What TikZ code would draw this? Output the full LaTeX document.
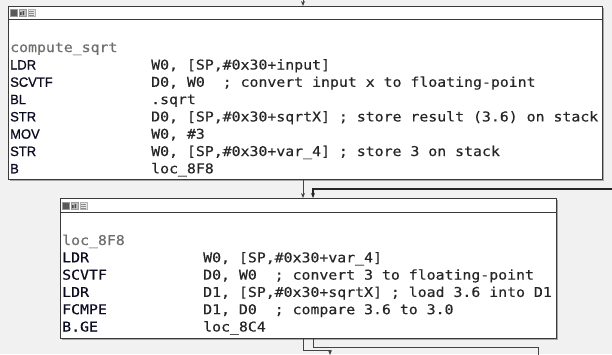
\documentclass[tikz,border=0pt]{standalone}
\usepackage{fontspec}
\usetikzlibrary{arrows.meta,shadows}
\newfontfamily\codefont[FakeStretch=1.1,FakeBold=0.35]{DejaVu Sans Mono}
\newfontfamily\mnefont[FakeStretch=0.96,FakeBold=0.9]{Liberation Sans}
\definecolor{bgc}{HTML}{F1F1F1}
\definecolor{boxline}{HTML}{3A3A3A}
\definecolor{shadowc}{HTML}{A8A8A8}
\definecolor{mnec}{HTML}{0B0B22}
\definecolor{opc}{HTML}{262626}
\definecolor{labc}{HTML}{6E6E6E}
\definecolor{connc}{HTML}{444444}
\begin{document}
\begin{tikzpicture}[x=1pt,y=-1pt,
  blk/.style={draw=boxline, line width=1.1pt, fill=white, inner sep=0pt, anchor=north west,
    drop shadow={shadow xshift=1.6pt, shadow yshift=-1.6pt, fill=shadowc, opacity=1}},
  hdrline/.style={draw=boxline, line width=1pt},
  mne/.style={font=\mnefont\fontsize{13.5}{16}\selectfont, text=mnec, inner sep=0pt, anchor=base west},
  mnem/.style={font=\codefont\fontsize{13.5}{16}\selectfont, text=mnec, inner sep=0pt, anchor=base west},
  opd/.style={font=\codefont\fontsize{13.5}{16}\selectfont, text=opc, inner sep=0pt, anchor=base west},
  lab/.style={font=\codefont\fontsize{13.5}{16}\selectfont, text=labc, inner sep=0pt, anchor=base west},
  conn/.style={draw=connc, line width=1pt, -{Stealth[length=5pt,width=4pt]}},
  connthick/.style={draw=black!85, line width=1.5pt, -{Stealth[length=5pt,width=4pt]}},
  plain/.style={draw=connc, line width=1pt},
  icoA/.style={fill=black!65, draw=black!40, line width=0.3pt},
  icoB/.style={fill=black!25, draw=black!40, line width=0.3pt},
  icoC/.style={fill=black!10, draw=black!30, line width=0.3pt}
]
\useasboundingbox (0,0) rectangle (612,354);
\fill[bgc] (0,0) rectangle (612,354);

% ---- top block
\node[blk, minimum width=594pt, minimum height=173pt] (top) at (8,6) {};
\draw[hdrline] ([yshift=-13pt]top.north west) -- ([yshift=-13pt]top.north east);
\fill[icoA] (10,9) rectangle (17,16);
\fill[icoB] (19,9) rectangle (26,16);
\fill[black!70] (20,15) rectangle (21.5,12) (22.5,15) rectangle (24,11);
\fill[icoC] (28,9) rectangle (35,16);
\draw[black!45, line width=0.4pt] (29,11) -- (34,11) (29,13) -- (34,13) (29,15) -- (34,15);

\node[lab] (t0) at (10,52) {compute\_sqrt};
\node[mne] (t1m) at (10,69.5) {LDR};
\node[opd] (t1o) at (151,69.5) {W0, [SP,\#0x30+input]};
\node[mne] (t2m) at (10,86.8) {SCVTF};
\node[opd] (t2o) at (151,86.8) {D0, W0\ \ ; convert input x to floating-point};
\node[mne] (t3m) at (10,104.1) {BL};
\node[opd] (t3o) at (151,104.1) {.sqrt};
\node[mne] (t4m) at (10,121.4) {STR};
\node[opd] (t4o) at (151,121.4) {D0, [SP,\#0x30+sqrtX] ; store result (3.6) on stack};
\node[mne] (t5m) at (10,138.7) {MOV};
\node[opd] (t5o) at (151,138.7) {W0, \#3};
\node[mne] (t6m) at (10,156) {STR};
\node[opd] (t6o) at (151,156) {W0, [SP,\#0x30+var\_4] ; store 3 on stack};
\node[mne] (t7m) at (10,173.3) {B};
\node[opd] (t7o) at (151,173.3) {loc\_8F8};

% ---- second block
\node[blk, minimum width=496pt, minimum height=140pt] (loc) at (60,198) {};
\draw[hdrline] ([yshift=-14pt]loc.north west) -- ([yshift=-14pt]loc.north east);
\fill[icoA] (62,202) rectangle (69,209);
\fill[icoB] (71,202) rectangle (78,209);
\fill[black!70] (72,208) rectangle (73.5,205) (74.5,208) rectangle (76,204);
\fill[icoC] (80,202) rectangle (87,209);
\draw[black!45, line width=0.4pt] (81,204) -- (86,204) (81,206) -- (86,206) (81,208) -- (86,208);

\node[lab] (l0) at (62,245) {loc\_8F8};
\node[mnem] (l1m) at (62,262.3) {LDR};
\node[opd] (l1o) at (203,262.3) {W0, [SP,\#0x30+var\_4]};
\node[mnem] (l2m) at (62,279.6) {SCVTF};
\node[opd] (l2o) at (203,279.6) {D0, W0\ \ ; convert 3 to floating-point};
\node[mnem] (l3m) at (62,296.9) {LDR};
\node[opd] (l3o) at (203,296.9) {D1, [SP,\#0x30+sqrtX] ; load 3.6 into D1};
\node[mnem] (l4m) at (62,314.2) {FCMPE};
\node[opd] (l4o) at (203,314.2) {D1, D0\ \ ; compare 3.6 to 3.0};
\node[mnem] (l5m) at (62,331.5) {B.GE};
\node[opd] (l5o) at (203,331.5) {loc\_8C4};

% ---- connectors
\coordinate (inTop) at (303,-1);
\coordinate (xa) at (303,0);
\coordinate (xb) at (313,0);
\coordinate (backIn) at (613,189);
\coordinate (outA) at (330,355);
\coordinate (outB) at (538,355);

\draw[conn] (inTop) -- (inTop |- top.north);
\draw[conn] (top.south -| xa) -- (loc.north -| xa);
\draw[connthick] (backIn) -| (loc.north -| xb);
\draw[conn] (loc.south -| xa) -- ++(0,11) -| (outA);
\draw[plain] (loc.south -| xb) -- ++(0,8.7) -| (outB);
\end{tikzpicture}
\end{document}
